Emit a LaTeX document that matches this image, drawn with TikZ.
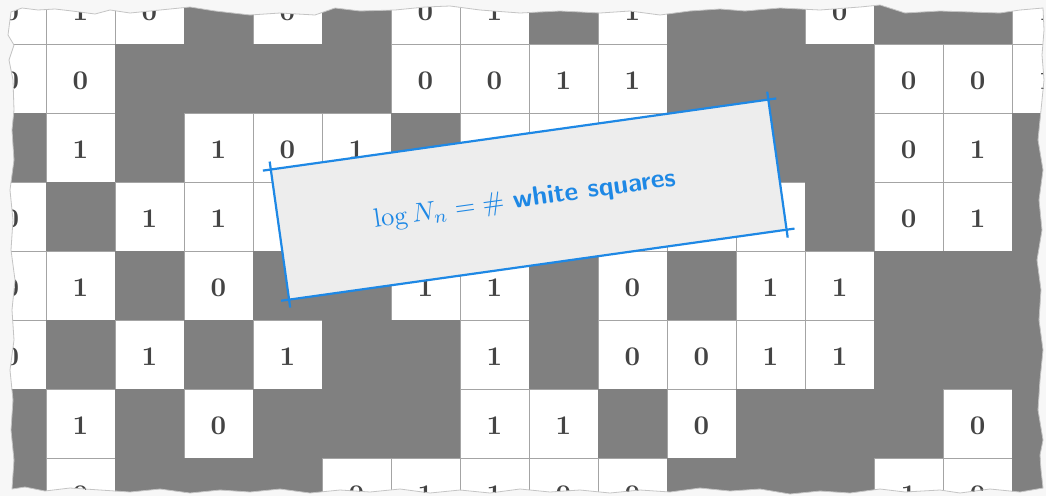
\documentclass[tikz,border=0pt]{standalone}
\usepackage{graphicx}
\usetikzlibrary{calc}
\definecolor{bgpaper}{HTML}{F7F7F7}
\definecolor{edgecol}{HTML}{C4C4C4}
\definecolor{cellgray}{HTML}{808080}
\definecolor{gridcol}{HTML}{A4A4A4}
\definecolor{digitcol}{HTML}{444444}
\definecolor{labelblue}{HTML}{1E88E5}
\definecolor{labelfill}{HTML}{EDEDED}
\tikzset{
  whitecell/.style={fill=white, draw=gridcol, line width=1pt},
  graycell/.style={fill=cellgray},
  digit/.style={text=digitcol, font=\bfseries, scale=2.7, inner sep=0pt},
  labelbox/.style={fill=labelfill, minimum width=502pt, minimum height=131pt, inner sep=0pt, rotate=8, text=labelblue},
  blueline/.style={draw=labelblue, line width=2.2pt},
  tornline/.style={draw=edgecol, line width=0.8pt},
}
\newcommand{\tornedge}{(11,12) -- (22,8) -- (38,10) -- (55,9) -- (72,11) -- (95,14) -- (110,10) -- (130,13) -- (150,11) -- (170,9) -- (190,7) -- (215,11) -- (250,15) -- (280,13) -- (315,15) -- (335,8) -- (360,11) -- (395,10) -- (425,7) -- (450,6) -- (480,10) -- (520,13) -- (560,11) -- (600,13) -- (630,11) -- (660,15) -- (690,11) -- (720,9) -- (745,11) -- (780,8) -- (820,10) -- (860,7) -- (880,5) -- (905,13) -- (940,11) -- (970,12) -- (1000,13) -- (1020,10) -- (1043,8) -- (1044,30) -- (1042,55) -- (1044,80) -- (1041,110) -- (1038,140) -- (1043,170) -- (1039,200) -- (1042,230) -- (1037,260) -- (1041,290) -- (1039,320) -- (1043,350) -- (1040,380) -- (1038,410) -- (1043,440) -- (1040,455) -- (1041,470) -- (1043,488) -- (1020,492) -- (990,489) -- (960,493) -- (940,490) -- (905,492) -- (880,489) -- (850,493) -- (820,491) -- (790,494) -- (760,489) -- (730,491) -- (700,488) -- (670,492) -- (640,490) -- (610,493) -- (580,490) -- (550,492) -- (520,489) -- (490,493) -- (460,490) -- (430,493) -- (400,489) -- (370,492) -- (340,490) -- (310,493) -- (280,489) -- (250,492) -- (220,490) -- (190,493) -- (160,489) -- (130,492) -- (100,490) -- (70,488) -- (45,491) -- (25,487) -- (12,489) -- (14,460) -- (11,430) -- (13,400) -- (10,370) -- (14,340) -- (12,310) -- (15,280) -- (11,250) -- (13,220) -- (10,190) -- (14,160) -- (12,130) -- (14,110) -- (13,80) -- (9,60) -- (14,45) -- (8,35) -- cycle}
\def\gridrows{%
0/{0,1,0,2,0,2,0,1,2,1,2,2,0,2,2,1},%
1/{0,0,2,2,2,2,0,0,1,1,2,2,2,0,0,1},%
2/{2,1,2,1,0,1,2,3,3,3,2,2,2,0,1,2},%
3/{0,2,1,1,3,3,3,3,3,3,3,3,2,0,1,2},%
4/{0,1,2,0,2,2,1,1,2,0,2,1,1,2,2,2},%
5/{0,2,1,2,1,2,2,1,2,0,0,1,1,2,2,2},%
6/{2,1,2,0,2,2,2,1,1,2,0,2,2,2,0,2},%
7/{2,0,2,2,2,0,1,1,0,0,2,2,2,1,0,2}}
\begin{document}
\begin{tikzpicture}[x=1pt,y=-1pt]
\useasboundingbox (0,0) rectangle (1046,496);
\fill[bgpaper] (0,0) rectangle (1046,496);
\begin{scope}
  \clip \tornedge;
  % pass 1: white cells with grid lines
  \foreach \r/\row in \gridrows {
    \foreach \v [count=\i from 0] in \row {
      \pgfmathsetmacro\xx{46+69*(\i-1)}
      \pgfmathsetmacro\yy{44+69*(\r-1)}
      \draw[whitecell] (\xx,\yy) rectangle ++(69,69);
    }
  }
  % pass 2: gray cells
  \foreach \r/\row in \gridrows {
    \foreach \v [count=\i from 0] in \row {
      \ifnum\v=2
        \pgfmathsetmacro\xx{46+69*(\i-1)}
        \pgfmathsetmacro\yy{44+69*(\r-1)}
        \fill[graycell] (\xx,\yy) rectangle ++(69,69);
      \fi
    }
  }
  % pass 3: digits
  \foreach \r/\row in \gridrows {
    \foreach \v [count=\i from 0] in \row {
      \ifnum\v<2
        \pgfmathsetmacro\xx{46+69*(\i-1)+34.5}
        \pgfmathsetmacro\yy{44+69*(\r-1)+36.5}
        \node[digit] (d\r-\i) at (\xx,\yy) {\v};
      \fi
    }
  }
\end{scope}
\draw[tornline] \tornedge;
% label
\node[labelbox] (lbl) at (528.7,199.6) {\scalebox{2.65}{$\log N_n = \#$ \textsf{\bfseries white squares}}\hspace*{8pt}};
\draw[blueline] ($(lbl.north west)!-8pt!(lbl.north east)$) -- ($(lbl.north east)!-8pt!(lbl.north west)$);
\draw[blueline] ($(lbl.north east)!-8pt!(lbl.south east)$) -- ($(lbl.south east)!-8pt!(lbl.north east)$);
\draw[blueline] ($(lbl.south east)!-8pt!(lbl.south west)$) -- ($(lbl.south west)!-8pt!(lbl.south east)$);
\draw[blueline] ($(lbl.south west)!-8pt!(lbl.north west)$) -- ($(lbl.north west)!-8pt!(lbl.south west)$);
\end{tikzpicture}
\end{document}
